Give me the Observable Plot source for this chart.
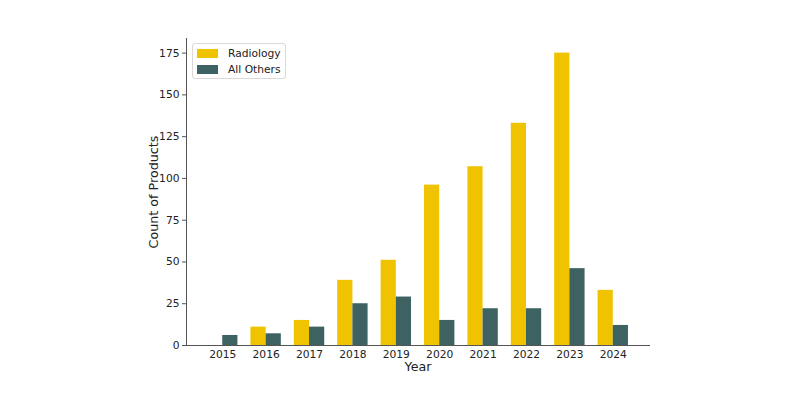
<!DOCTYPE html>
<html><head><meta charset="utf-8">
<script src="https://cdn.jsdelivr.net/npm/d3@7"></script>
<script src="https://cdn.jsdelivr.net/npm/@observablehq/plot@0.6"></script>
<style>
body{margin:0;background:#fff;font-family:"DejaVu Sans",sans-serif}
#wrap{position:relative;width:800px;height:400px}
#legend{position:absolute;left:192px;top:43px;width:92px;height:34px;border:1px solid #d9d9d9;border-radius:3px;background:rgba(255,255,255,0.8);box-sizing:content-box;font-size:10.7px;color:#222}
.item{position:absolute;left:4px;height:10px;display:flex;align-items:center}
.sw{width:21px;height:9px;margin-right:10px}
</style></head><body><div id="wrap"></div>
<script>
const years = [2015, 2016, 2017, 2018, 2019, 2020, 2021, 2022, 2023, 2024];
const radiology = [0, 11, 15, 39, 51, 96, 107, 133, 175, 33];
const allOthers = [6, 7, 11, 25, 29, 15, 22, 22, 46, 12];
const seriesNames = ["Radiology", "All Others"];
const seriesColors = ["#efc300", "#3e6161"];
const yTicks = [0, 25, 50, 75, 100, 125, 150, 175];

const barWidth = 0.35;
const rows = years.flatMap((yr, i) => [
  {year: yr, series: "Radiology", value: radiology[i], x1: i - barWidth, x2: i},
  {year: yr, series: "All Others", value: allOthers[i], x1: i, x2: i + barWidth}
]);
const pad = 0.485 + barWidth;

const chart = Plot.plot({
  width: 800, height: 400,
  marginLeft: 186, marginRight: 151, marginTop: 38, marginBottom: 55,
  x: {domain: [-pad, years.length - 1 + pad]},
  y: {domain: [0, 175 * 1.05]},
  color: {domain: seriesNames, range: seriesColors},
  style: {fontFamily: "DejaVu Sans", fontSize: "10.7px", color: "#222", background: "#fff"},
  marks: [
    Plot.rectY(rows, {x1: "x1", x2: "x2", y: "value", fill: "series"}),
    Plot.axisY({ticks: yTicks, tickSize: 4, tickPadding: 3, stroke: "#555", label: "Count of Products", labelAnchor: "center", labelOffset: 38, labelArrow: "none"}),
    Plot.axisX({ticks: d3.range(years.length), tickFormat: i => String(years[i]), tickSize: 0, tickPadding: 5, label: "Year", labelAnchor: "center", labelOffset: 25, labelArrow: "none"}),
    Plot.frame({anchor: "left", stroke: "#555"}),
    Plot.frame({anchor: "bottom", stroke: "#555"})
  ]
});
chart.querySelectorAll('g[aria-label="y-axis label"], g[aria-label="x-axis label"]').forEach(g => g.setAttribute("font-size", "12.7px"));
const wrap = document.getElementById("wrap");
wrap.appendChild(chart);

const legend = document.createElement("div");
legend.id = "legend";
seriesNames.forEach((name, k) => {
  const it = document.createElement("div");
  it.className = "item";
  it.style.top = (4 + k * 16) + "px";
  const sw = document.createElement("span");
  sw.className = "sw";
  sw.style.background = seriesColors[k];
  const tx = document.createElement("span");
  tx.textContent = name;
  it.appendChild(sw); it.appendChild(tx);
  legend.appendChild(it);
});
wrap.appendChild(legend);
</script></body></html>
